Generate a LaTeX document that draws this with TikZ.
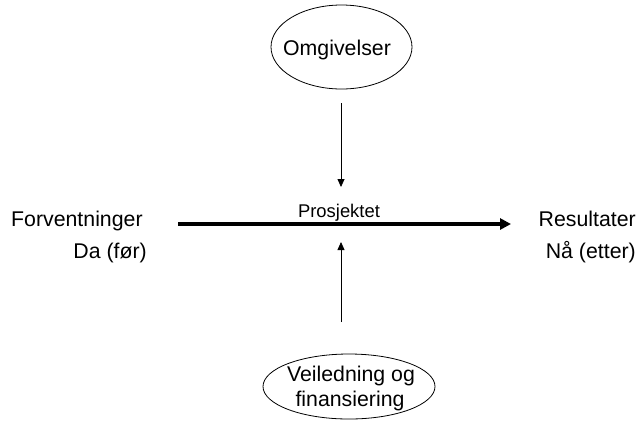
\documentclass[tikz,border=0pt]{standalone}
\usepackage{fontspec}
\setmainfont{Liberation Sans}
\usetikzlibrary{shapes.geometric,arrows.meta}
\begin{document}
\begin{tikzpicture}[x=1bp,y=-1bp,
  txt/.style={font=\fontsize{21.3bp}{25bp}\selectfont, inner sep=0pt},
  oval/.style={draw, ellipse, line width=0.8bp, inner sep=0pt},
  thin/.style={line width=0.8bp, -{Triangle[length=8bp,width=7bp]}},
  main/.style={line width=4bp, -{Triangle[length=11bp,width=11bp]}}]
\useasboundingbox (0,0) rectangle (639,421);
\node[oval, minimum width=141bp, minimum height=84bp] (omg) at (341.5,47) {};
\node[txt, anchor=base] (omgt) at (337,55) {Omgivelser};
\node[oval, minimum width=172bp, minimum height=65bp] (vei) at (349,386.5) {};
\node[txt, anchor=base] (veit1) at (351,381) {Veiledning og};
\node[txt, anchor=base] (veit2) at (350,406) {finansiering};
\coordinate (ms) at (178,224);
\coordinate (me) at (511,224);
\draw[main] (ms) -- (me);
\node[txt, anchor=base, font=\fontsize{18.4bp}{22bp}\selectfont] (pro) at (339,217) {Prosjektet};
\coordinate (ts) at (341,103);
\coordinate (te) at (341,187);
\draw[thin] (ts) -- (te);
\coordinate (bs) at (341,322);
\coordinate (be) at (341,242);
\draw[thin] (bs) -- (be);
\node[txt, anchor=base west] (forv) at (11,226) {Forventninger};
\node[txt, anchor=base east] (da) at (147,258) {Da (før)};
\node[txt, anchor=base east] (res) at (636,226) {Resultater};
\node[txt, anchor=base east] (naa) at (636,258) {Nå (etter)};
\end{tikzpicture}
\end{document}
